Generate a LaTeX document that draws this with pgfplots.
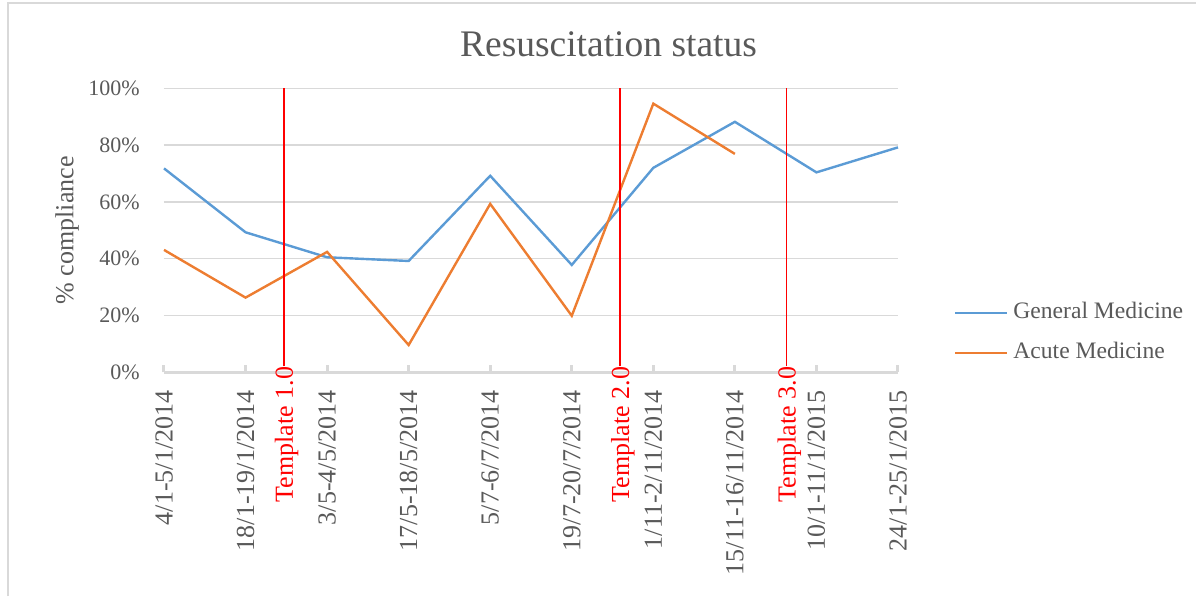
\documentclass[border=0pt]{standalone}
\usepackage{pgfplots}
\pgfplotsset{compat=1.18}
\usepackage{fontspec}
\setmainfont{Liberation Serif}
\definecolor{txt}{HTML}{595959}
\definecolor{gridc}{HTML}{D9D9D9}
\definecolor{gm}{HTML}{5B9BD5}
\definecolor{am}{HTML}{ED7D31}
\definecolor{tred}{HTML}{FF0000}
\begin{document}
\begin{tikzpicture}[x=1pt,y=1pt]
\useasboundingbox (0,0) rectangle (598,298);
\draw[gridc, line width=0.75pt] (4,0) -- (4,296.5) -- (598,296.5);
\begin{axis}[
  at={(82pt,111.85pt)}, anchor=south west,
  scale only axis, width=367pt, height=142pt,
  xmin=0, xmax=9, ymin=0, ymax=100,
  clip=false,
  separate axis lines,
  axis x line*=bottom, axis y line*=left,
  x axis line style={gridc, line width=1.5pt},
  y axis line style={draw=none},
  xtick={0,1,2,3,4,5,6,7,8,9},
  xticklabels={4/1-5/1/2014,18/1-19/1/2014,3/5-4/5/2014,17/5-18/5/2014,5/7-6/7/2014,19/7-20/7/2014,1/11-2/11/2014,15/11-16/11/2014,10/1-11/1/2015,24/1-25/1/2015},
  ytick={0,20,40,60,80,100},
  yticklabels={0\%,20\%,40\%,60\%,80\%,100\%},
  xtick align=inside,
  major tick length=3.5pt,
  xtick style={gridc, line width=1.5pt},
  ytick style={draw=none},
  ymajorgrids,
  major grid style={gridc, line width=0.7pt},
  xticklabel style={yshift=-9pt, rotate=90, anchor=east, inner sep=0pt, text=txt, font=\fontsize{13}{15}\selectfont},
  yticklabel style={xshift=-12pt, anchor=east, inner sep=0pt, text=txt, font=\fontsize{11}{13}\selectfont},
  ylabel={\% compliance},
  every axis y label/.style={at={(axis description cs:-0.1320,0.5)}, rotate=90, anchor=center, text=txt, font=\fontsize{13}{15}\selectfont},
  title={Resuscitation status},
  every axis title/.style={at={(axis description cs:0.6056,1.1113)}, anchor=base, text=txt, font=\fontsize{18.75}{22}\selectfont},
]
\addplot[gm, line width=1.2pt] coordinates {
 (0,71.8) (1,49.3) (2,40.5) (3,39.2) (4,69.2) (5,37.8) (6,72.0) (7,88.2) (8,70.4) (9,79.2)};
\addplot[am, line width=1.2pt] coordinates {
 (0,43.1) (1,26.3) (2,42.4) (3,9.6) (4,59.3) (5,19.9) (6,94.6) (7,76.9)};
\draw[tred, line width=0.8pt] (axis cs:1.471,2.1) -- (axis cs:1.471,100);
\draw[tred, line width=0.8pt] (axis cs:5.591,2.1) -- (axis cs:5.591,100);
\draw[tred, line width=0.8pt] (axis cs:7.635,2.1) -- (axis cs:7.635,100);
\node[rotate=90, anchor=east, inner sep=0pt, text=tred, font=\fontsize{13}{15}\selectfont] at (axis cs:1.505,2.1) {Template 1.0};
\node[rotate=90, anchor=east, inner sep=0pt, text=tred, font=\fontsize{13}{15}\selectfont] at (axis cs:5.625,2.1) {Template 2.0};
\node[rotate=90, anchor=east, inner sep=0pt, text=tred, font=\fontsize{13}{15}\selectfont] at (axis cs:7.669,2.1) {Template 3.0};
\end{axis}
\draw[gm, line width=1.2pt] (477.5,141.65) -- (503.5,141.65);
\node[anchor=base west, inner sep=0pt, text=txt, font=\fontsize{11.8}{14}\selectfont] at (506.5,138.85) {General Medicine};
\draw[am, line width=1.2pt] (477.5,121.65) -- (503.5,121.65);
\node[anchor=base west, inner sep=0pt, text=txt, font=\fontsize{11.8}{14}\selectfont] at (506.5,118.85) {Acute Medicine};
\end{tikzpicture}
\end{document}
